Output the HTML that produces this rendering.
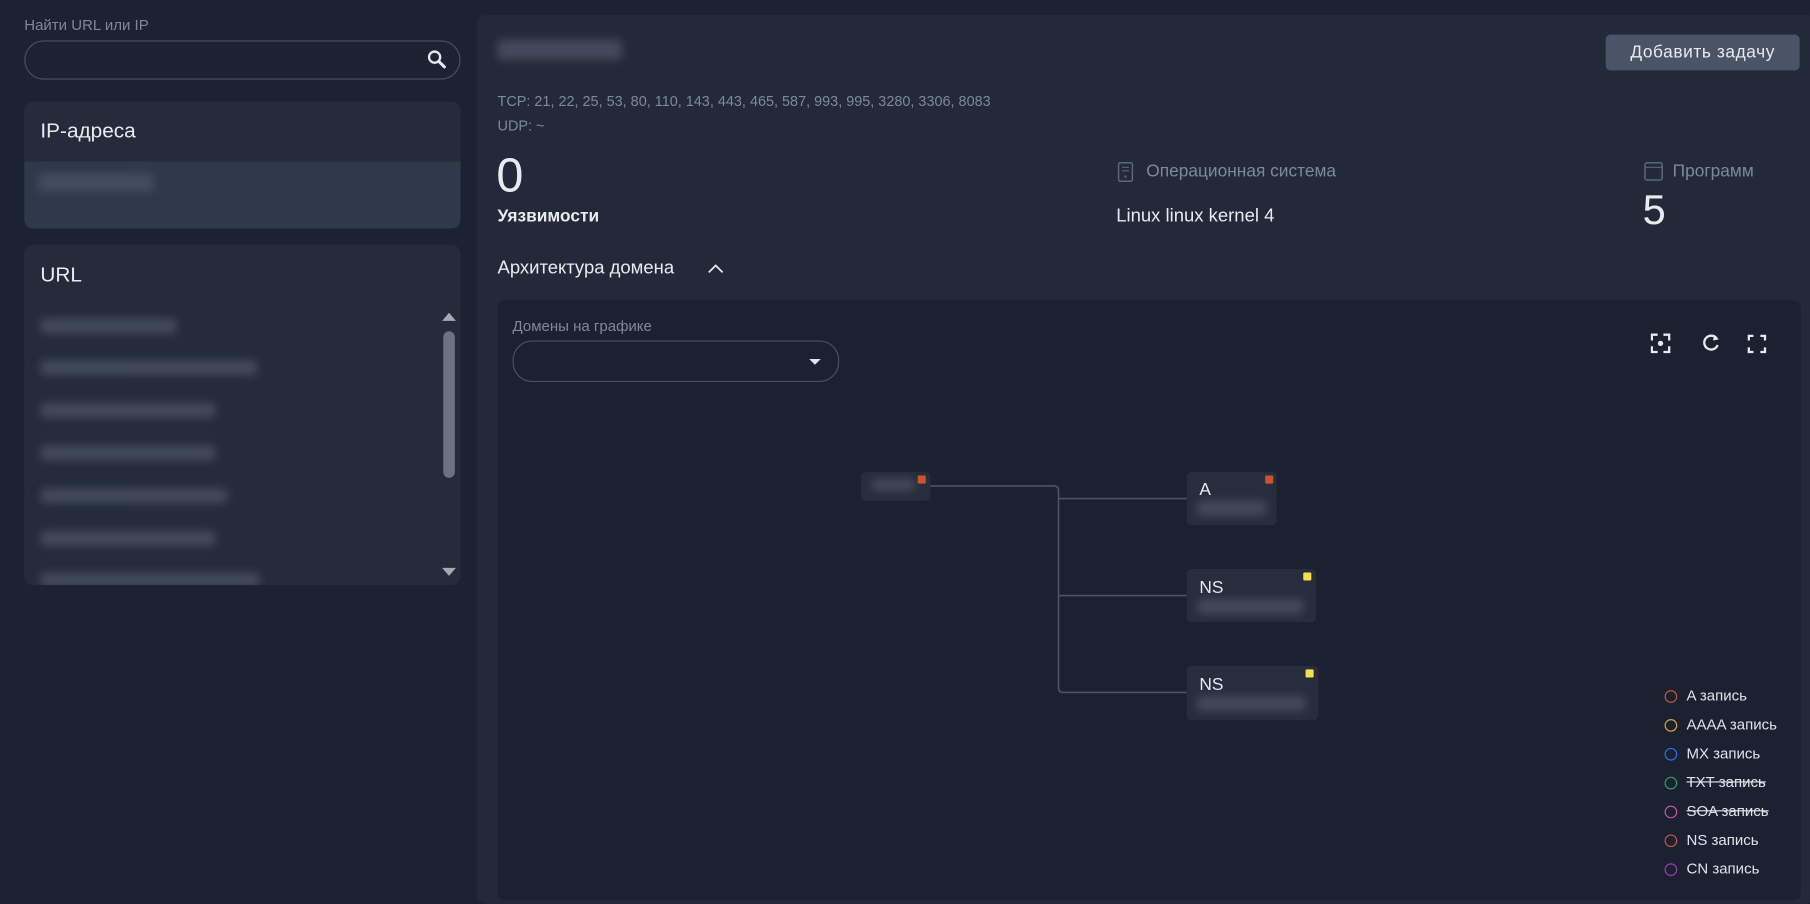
<!DOCTYPE html>
<html><head><meta charset="utf-8"><style>
html,body{margin:0;padding:0;background:#1b2130;overflow:hidden;width:1810px;height:891px}
#r{position:absolute;left:0;top:0;width:1568px;height:772px;transform:scale(1.15434,1.15415);transform-origin:0 0;background:#1b2231;font-family:"Liberation Sans",sans-serif;color:#e8ebf0}
.a{position:absolute;white-space:nowrap}
.blur{position:absolute;background:#4a5263;filter:blur(4px);border-radius:4px;opacity:.8}
.g{color:#7f8898}
.node{position:absolute;background:#262d3c;border-radius:4px}
.dot{position:absolute;width:7px;height:7px;border-radius:1px}
.lg{position:absolute;left:1442px;font-size:13px;color:#dfe3ea}
.lg i{position:absolute;left:0;top:2px;width:9px;height:9px;border:1.6px solid;border-radius:50%}
.lg span{position:absolute;left:19px;top:-1px;white-space:nowrap}
</style></head><body><div id="r">
<div class="a g" style="left:21px;top:14px;font-size:13px">Найти URL или IP</div>
<div class="a" style="left:21px;top:35px;width:376px;height:32px;border:1px solid #4a5262;border-radius:17px"></div>
<svg class="a" style="left:370px;top:43px" width="17" height="17" viewBox="0 0 17 17"><circle cx="6.5" cy="6.5" r="4.8" stroke="#e6e9ee" stroke-width="2" fill="none"/><line x1="10" y1="10" x2="15" y2="15" stroke="#e6e9ee" stroke-width="2.6" stroke-linecap="round"/></svg>

<div class="a" style="left:21px;top:88px;width:378px;height:110px;background:#242c3b;border-radius:8px;overflow:hidden">
 <div class="a" style="left:14px;top:15px;font-size:18px">IP-адреса</div>
 <div class="a" style="left:0;top:52px;width:378px;height:58px;background:#2f394a"></div>
 <div class="blur" style="left:12px;top:62px;width:100px;height:16px"></div>
</div>

<div class="a" style="left:21px;top:212px;width:378px;height:295px;background:#242c3b;border-radius:8px;overflow:hidden">
 <div class="a" style="left:14px;top:16px;font-size:18px">URL</div>
 <div class="blur" style="left:14px;top:64px;width:118px;height:13px"></div>
 <div class="blur" style="left:14px;top:100px;width:188px;height:13px"></div>
 <div class="blur" style="left:14px;top:137px;width:152px;height:13px"></div>
 <div class="blur" style="left:14px;top:174px;width:152px;height:13px"></div>
 <div class="blur" style="left:14px;top:211px;width:162px;height:13px"></div>
 <div class="blur" style="left:14px;top:248px;width:152px;height:13px"></div>
 <div class="blur" style="left:14px;top:284px;width:190px;height:13px"></div>
 <div class="a" style="left:363px;top:75px;width:10px;height:127px;background:#6b7280;border-radius:5px"></div>
 <div class="a" style="left:362px;top:59px;width:0;height:0;border-left:6px solid transparent;border-right:6px solid transparent;border-bottom:7px solid #a4aab4"></div>
 <div class="a" style="left:362px;top:280px;width:0;height:0;border-left:6px solid transparent;border-right:6px solid transparent;border-top:7px solid #a4aab4"></div>
</div>

<div class="a" style="left:413px;top:13px;width:1160px;height:770px;background:#222a39;border-radius:8px"></div>
<div class="blur" style="left:431px;top:34px;width:108px;height:18px"></div>
<div class="a" style="left:1391px;top:30px;width:168px;height:31px;background:#4a5466;border-radius:4px;font-size:15px;line-height:31px;text-align:center;letter-spacing:.5px">Добавить задачу</div>
<div class="a g" style="left:431px;top:81px;font-size:12.5px">TCP: 21, 22, 25, 53, 80, 110, 143, 443, 465, 587, 993, 995, 3280, 3306, 8083</div>
<div class="a g" style="left:431px;top:102px;font-size:12.5px">UDP: ~</div>
<div class="a" style="left:430px;top:128px;font-size:42px;font-weight:300">0</div>
<div class="a" style="left:431px;top:179px;font-size:15px;font-weight:bold">Уязвимости</div>
<svg class="a" style="left:968px;top:140px" width="14" height="18"><rect x="1" y="1" width="12" height="16" rx="1.5" fill="none" stroke="#5d6677" stroke-width="1.3"/><line x1="4" y1="5" x2="10" y2="5" stroke="#5d6677"/><line x1="4" y1="8" x2="10" y2="8" stroke="#5d6677"/><circle cx="7" cy="13" r="1" fill="#5d6677"/></svg>
<div class="a g" style="left:993px;top:140px;font-size:15px">Операционная система</div>
<div class="a" style="left:967px;top:179px;font-size:16px">Linux linux kernel 4</div>
<svg class="a" style="left:1424px;top:140px" width="18" height="17"><rect x="1" y="1" width="15" height="15" rx="2" fill="none" stroke="#5d6677" stroke-width="1.3"/><line x1="1" y1="5" x2="16" y2="5" stroke="#5d6677"/></svg>
<div class="a g" style="left:1449px;top:140px;font-size:15px">Программ</div>
<div class="a" style="left:1423px;top:161px;font-size:36px;font-weight:300">5</div>
<div class="a" style="left:431px;top:224px;font-size:16px">Архитектура домена</div>
<svg class="a" style="left:613px;top:228px" width="14" height="10"><polyline points="1,8 7,2 13,8" fill="none" stroke="#e6e9ee" stroke-width="1.5"/></svg>

<div class="a" style="left:431px;top:260px;width:1129px;height:520px;background:#1b2130;border-radius:6px"></div>
<div class="a g" style="left:444px;top:275px;font-size:13px">Домены на графике</div>
<div class="a" style="left:444px;top:295px;width:281px;height:34px;border:1px solid #4a5262;border-radius:17px"></div>
<div class="a" style="left:701px;top:311px;border-left:5px solid transparent;border-right:5px solid transparent;border-top:5px solid #dfe3ea"></div>
<svg class="a" style="left:1430px;top:289px" width="120" height="18" fill="none" stroke="#e6e9ee" stroke-width="2">
<path d="M1,6V1H6M11,1H16V6M16,11V16H11M6,16H1V11"/><circle cx="8.5" cy="8.5" r="2.3" fill="#e6e9ee" stroke="none"/>
<path d="M57,4A6,6 0 1 0 58,10" /><polygon points="55,1 59,5 54,6" fill="#e6e9ee" stroke="none"/>
<path d="M85,6V2H89M95,2H99V6M99,12V16H95M89,16H85V12"/></svg>

<svg class="a" style="left:0;top:0" width="1568" height="772" fill="none" stroke="#4b5465" stroke-width="1.4">
<path d="M806,421H913Q917,421 917,425V596Q917,600 921,600H1028M917,432H1028M917,516H1028"/></svg>
<div class="node" style="left:746px;top:409px;width:60px;height:25px"></div>
<div class="blur" style="left:755px;top:415px;width:38px;height:10px"></div>
<div class="dot" style="left:795px;top:412px;background:#d0522d"></div>
<div class="node" style="left:1028px;top:409px;width:78px;height:46px"></div>
<div class="a" style="left:1039px;top:416px;font-size:15px">A</div>
<div class="blur" style="left:1037px;top:434px;width:60px;height:13px"></div>
<div class="dot" style="left:1096px;top:412px;background:#d0522d"></div>
<div class="node" style="left:1028px;top:493px;width:112px;height:46px"></div>
<div class="a" style="left:1039px;top:501px;font-size:15px">NS</div>
<div class="blur" style="left:1037px;top:519px;width:92px;height:13px"></div>
<div class="dot" style="left:1129px;top:496px;background:#f5e04c"></div>
<div class="node" style="left:1028px;top:577px;width:114px;height:47px"></div>
<div class="a" style="left:1039px;top:585px;font-size:15px">NS</div>
<div class="blur" style="left:1037px;top:603px;width:94px;height:13px"></div>
<div class="dot" style="left:1131px;top:580px;background:#f5e04c"></div>

<div class="lg" style="top:596px"><i style="border-color:#c45a3a"></i><span>A запись</span></div>
<div class="lg" style="top:621px"><i style="border-color:#d9a23a"></i><span>AAAA запись</span></div>
<div class="lg" style="top:646px"><i style="border-color:#2e6fe0"></i><span>MX запись</span></div>
<div class="lg" style="top:671px"><i style="border-color:#2f9e5c"></i><span style="text-decoration:line-through">TXT запись</span></div>
<div class="lg" style="top:696px"><i style="border-color:#d256a6"></i><span style="text-decoration:line-through">SOA запись</span></div>
<div class="lg" style="top:721px"><i style="border-color:#c45a3a"></i><span>NS запись</span></div>
<div class="lg" style="top:746px"><i style="border-color:#9a3cc0"></i><span>CN запись</span></div>
</div></body></html>
